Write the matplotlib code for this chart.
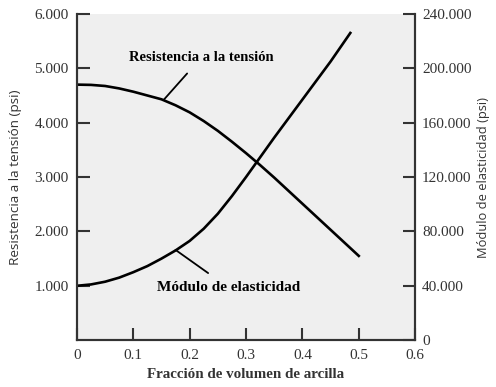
import matplotlib
matplotlib.use('Agg')
import matplotlib.pyplot as plt

frac = [0.0, 0.025, 0.05, 0.075, 0.10, 0.125, 0.15, 0.175, 0.20, 0.225, 0.25,
        0.275, 0.30, 0.325, 0.35, 0.375, 0.40, 0.425, 0.45, 0.475, 0.50]
resistencia = [4700, 4695, 4675, 4630, 4570, 4500, 4430, 4320, 4190, 4030, 3850,
               3650, 3440, 3220, 2990, 2750, 2510, 2270, 2030, 1790, 1550]

frac_mod = [0.0, 0.025, 0.05, 0.075, 0.10, 0.125, 0.15, 0.175, 0.20, 0.225, 0.25,
            0.275, 0.30, 0.325, 0.35, 0.375, 0.40, 0.425, 0.45, 0.485]
modulo = [40000, 41000, 43000, 46000, 50000, 54500, 60000, 66000, 73000, 82000, 93000,
          106000, 120000, 134500, 149000, 163000, 177000, 191000, 205000, 226000]

left_ticks = [1000, 2000, 3000, 4000, 5000, 6000]
left_labels = ['1.000', '2.000', '3.000', '4.000', '5.000', '6.000']
right_ticks = [0, 40000, 80000, 120000, 160000, 200000, 240000]
right_labels = ['0', '40.000', '80.000', '120.000', '160.000', '200.000', '240.000']
x_ticks = [0, 0.1, 0.2, 0.3, 0.4, 0.5, 0.6]
x_labels = ['0', '0.1', '0.2', '0.3', '0.4', '0.5', '0.6']

serif = 'Liberation Serif'
sans = 'Open Sans'

fig = plt.figure(figsize=(4.96, 3.87), dpi=100)
ax = fig.add_axes([0.155, 0.121, 0.682, 0.843])
ax.set_facecolor('#efefef')
ax2 = ax.twinx()

ax.plot(frac, resistencia, color='black', linewidth=1.9)
ax2.plot(frac_mod, modulo, color='black', linewidth=1.9)

ax.set_xlim(0, 0.6)
ax.set_ylim(0, 6000)
ax2.set_ylim(0, 240000)

ax.set_xticks(x_ticks)
ax.set_xticklabels(x_labels, family=serif, fontsize=11, color='#333333')
ax.set_yticks(left_ticks)
ax.set_yticklabels(left_labels, family=serif, fontsize=11, color='#333333')
ax2.set_yticks(right_ticks)
ax2.set_yticklabels(right_labels, family=serif, fontsize=11, color='#333333')

ax.tick_params(axis='both', direction='in', length=9, width=1.5, color='#333333', pad=6)
ax2.tick_params(axis='y', direction='in', length=9, width=1.5, color='#333333', pad=5)

for a in (ax, ax2):
    a.spines['top'].set_visible(False)
    for s in ('left', 'right', 'bottom'):
        a.spines[s].set_linewidth(1.5)
        a.spines[s].set_color('#333333')

ax.set_xlabel('Fracción de volumen de arcilla', family=serif, fontsize=10.8, fontweight='bold',
              color='#333333', labelpad=5)
ax.set_ylabel('Resistencia a la tensión (psi)', family=sans, fontsize=9.7, color='#333333', labelpad=9)
ax2.set_ylabel('Módulo de elasticidad (psi)', family=sans, fontsize=9.3, color='#333333',
               rotation=90, labelpad=4)

ax.annotate('Resistencia a la tensión', xy=(0.154, 4420), xytext=(0.22, 5190),
            ha='center', va='center', family=serif, fontsize=10.5, fontweight='bold',
            arrowprops=dict(arrowstyle='-', color='black', lw=1.3, shrinkA=6, shrinkB=0))
ax.annotate('Módulo de elasticidad', xy=(0.175, 1660), xytext=(0.27, 960),
            ha='center', va='center', family=serif, fontsize=11, fontweight='bold',
            arrowprops=dict(arrowstyle='-', color='black', lw=1.3, shrinkA=7, shrinkB=0))

fig.savefig('out.png', dpi=100)
